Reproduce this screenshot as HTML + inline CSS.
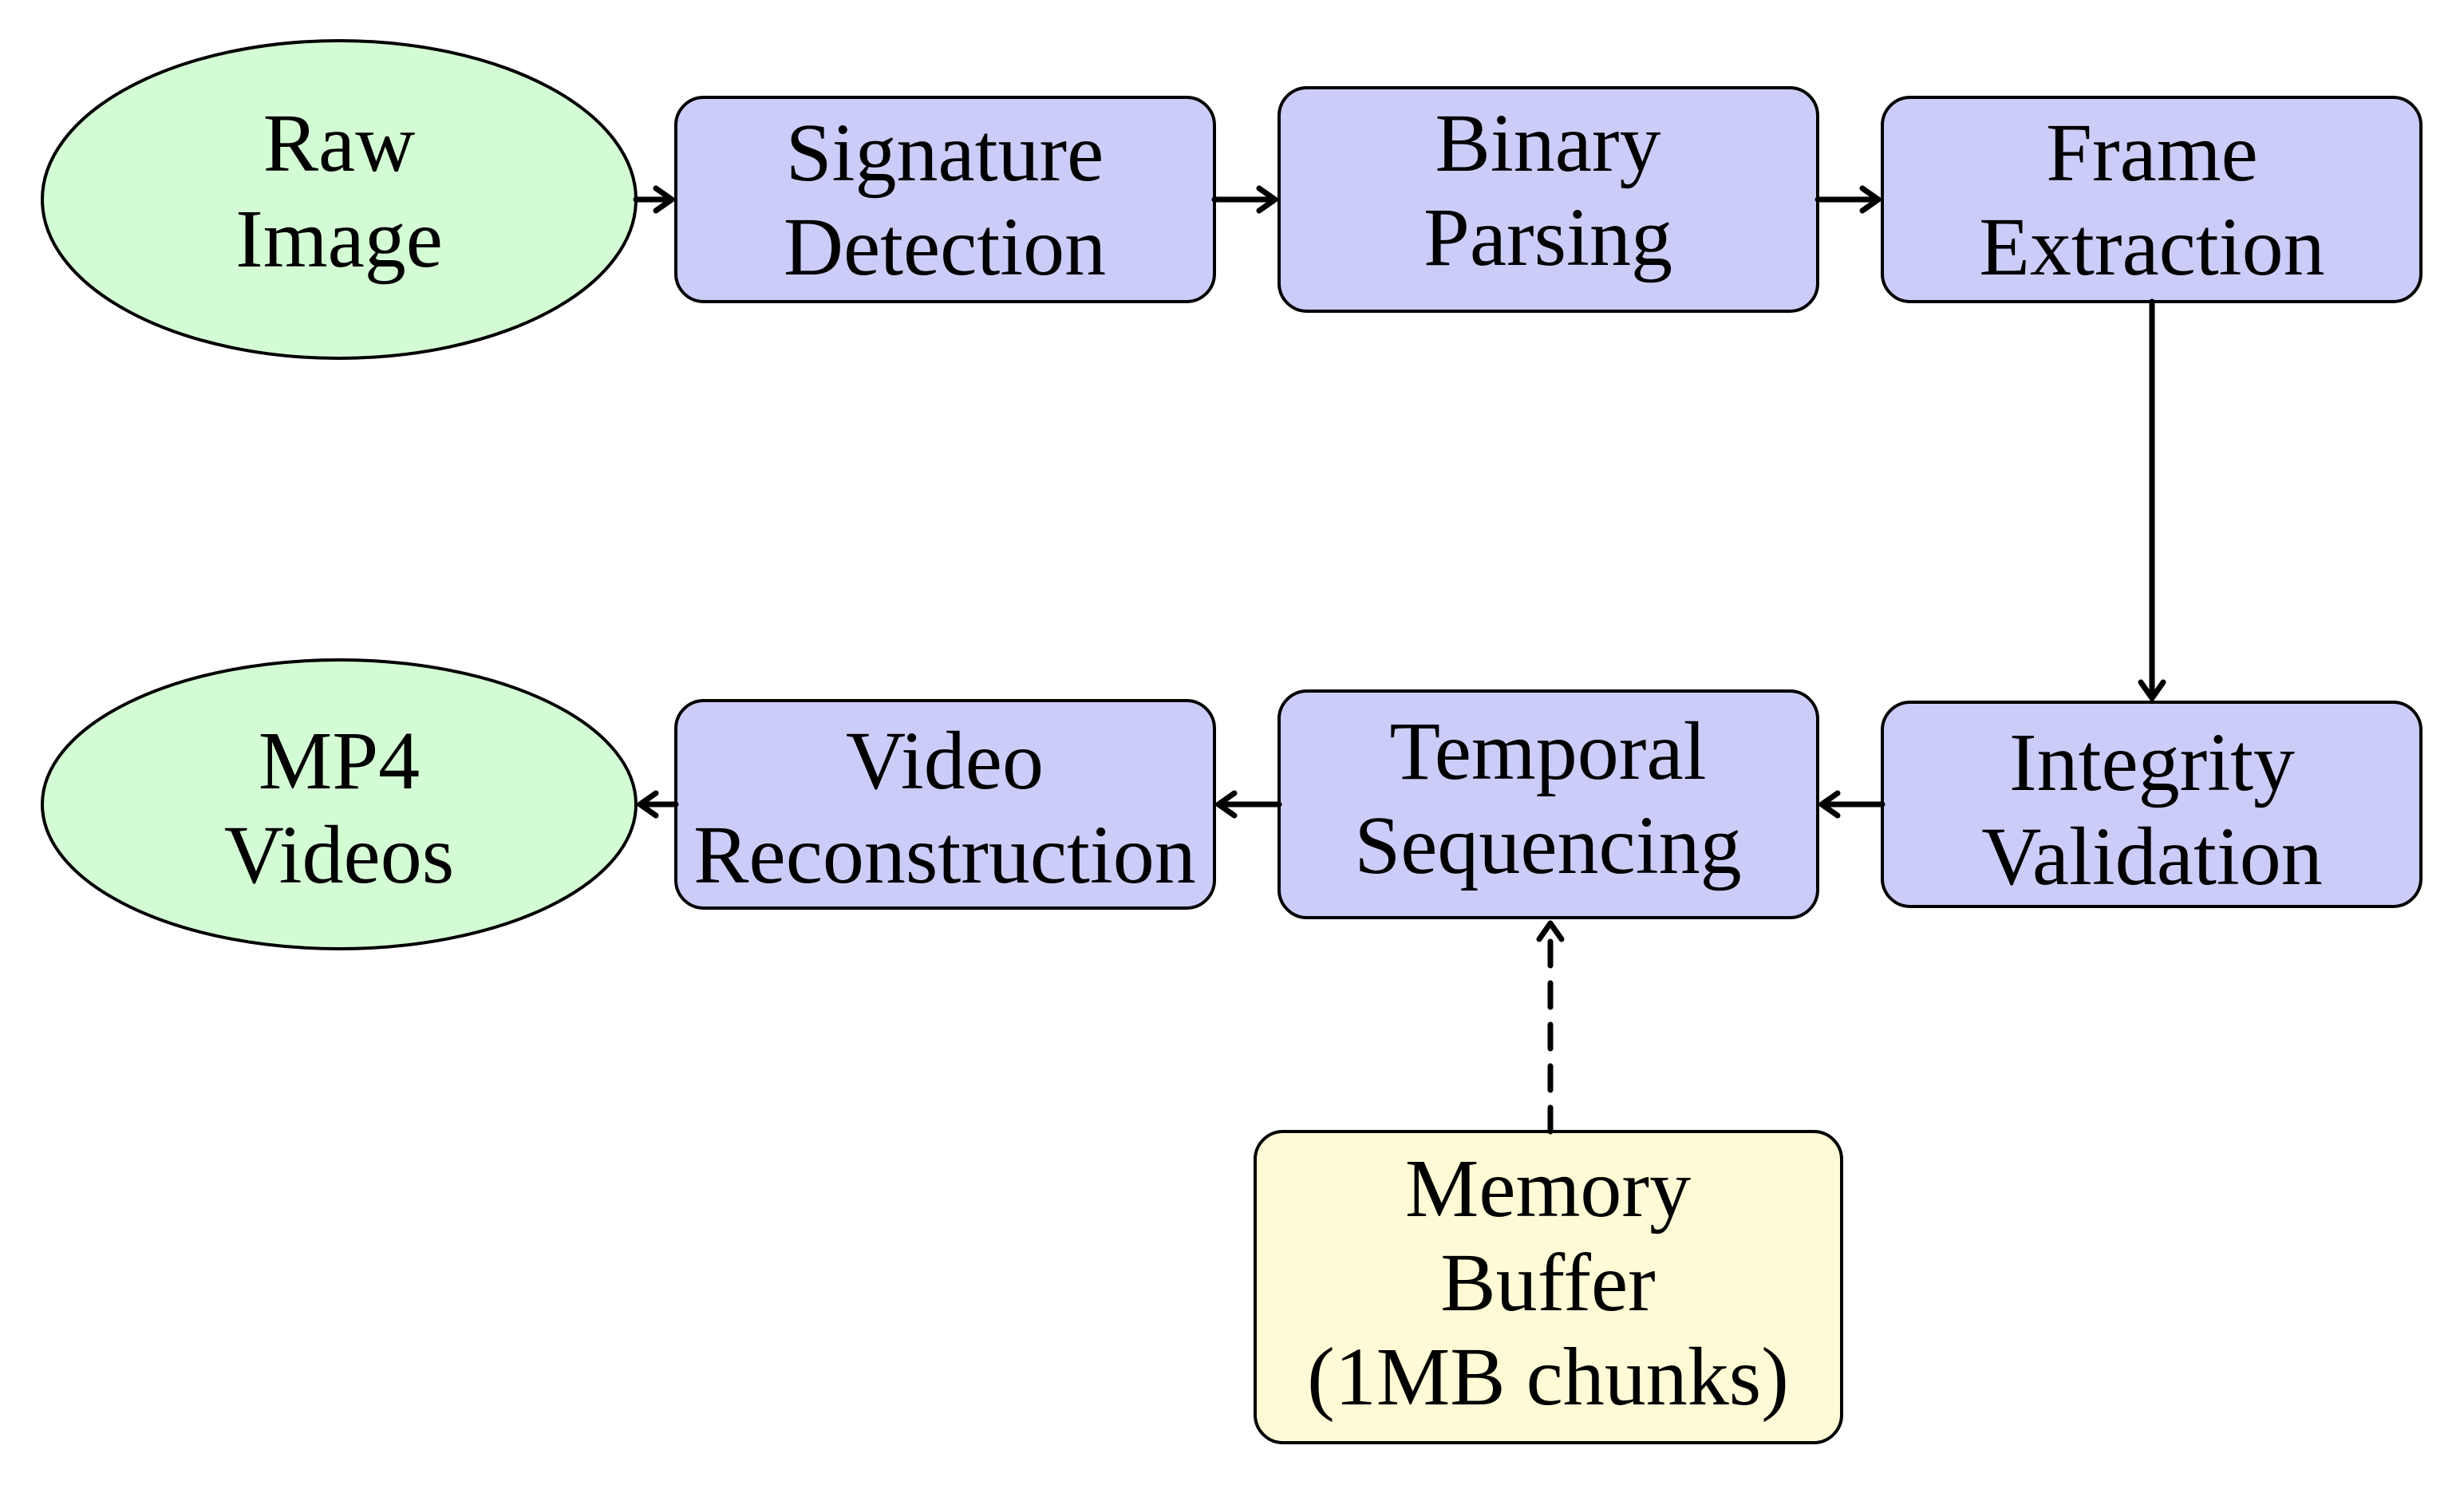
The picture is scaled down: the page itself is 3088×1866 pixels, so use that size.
<!DOCTYPE html>
<html><head><meta charset="utf-8"><style>
html,body{margin:0;padding:0;background:#fff;}
svg{display:block;}
text{font-family:"Liberation Serif",serif;font-size:104px;fill:#000;text-anchor:middle;}
</style></head><body>
<svg width="3088" height="1866" viewBox="0 0 3088 1866" xmlns="http://www.w3.org/2000/svg">
<g stroke="#000" stroke-width="4">
<ellipse cx="425" cy="250" rx="372" ry="199" fill="#d4fcd4"/>
<rect x="847" y="122" width="675" height="256" rx="35" fill="#ccccf8"/>
<rect x="1603" y="110" width="675" height="280" rx="35" fill="#ccccf8"/>
<rect x="2359" y="122" width="675" height="256" rx="35" fill="#ccccf8"/>
<rect x="2359" y="880" width="675" height="256" rx="35" fill="#ccccf8"/>
<rect x="1603" y="866" width="675" height="284" rx="35" fill="#ccccf8"/>
<rect x="847" y="878" width="675" height="260" rx="35" fill="#ccccf8"/>
<ellipse cx="425" cy="1008" rx="372" ry="181" fill="#d4fcd4"/>
<rect x="1573" y="1418" width="735" height="390" rx="35" fill="#fefad6"/>
</g>
<g stroke="#000" stroke-width="7" fill="none" stroke-linecap="round" stroke-linejoin="round">
<line x1="797" y1="250" x2="840" y2="250"/><path d="M822 236 L842 250 L822 264"/>
<line x1="1522" y1="250" x2="1596" y2="250"/><path d="M1578 236 L1598 250 L1578 264"/>
<line x1="2278" y1="250" x2="2352" y2="250"/><path d="M2334 236 L2354 250 L2334 264"/>
<line x1="2697" y1="378" x2="2697" y2="873"/><path d="M2683 855 L2697 875 L2711 855"/>
<line x1="2359" y1="1008" x2="2285" y2="1008"/><path d="M2303 994 L2283 1008 L2303 1022"/>
<line x1="1603" y1="1008" x2="1529" y2="1008"/><path d="M1547 994 L1527 1008 L1547 1022"/>
<line x1="847" y1="1008" x2="804" y2="1008"/><path d="M822 994 L802 1008 L822 1022"/>
<line x1="1943" y1="1418" x2="1943" y2="1160" stroke-dasharray="30 22"/><path d="M1929 1177 L1943 1157 L1957 1177"/>
</g>
<text x="425" y="214">Raw</text><text x="425" y="334">Image</text>
<text x="1184" y="226">Signature</text><text x="1184" y="344">Detection</text>
<text x="1940" y="214">Binary</text><text x="1940" y="332">Parsing</text>
<text x="2697" y="226">Frame</text><text x="2697" y="344">Extraction</text>
<text x="2697" y="990">Integrity</text><text x="2697" y="1108">Validation</text>
<text x="1940" y="976">Temporal</text><text x="1940" y="1094">Sequencing</text>
<text x="1184" y="988">Video</text><text x="1184" y="1106">Reconstruction</text>
<text x="425" y="988">MP4</text><text x="425" y="1106">Videos</text>
<text x="1940" y="1524">Memory</text><text x="1940" y="1642">Buffer</text><text x="1940" y="1760">(1MB chunks)</text>
</svg>
</body></html>
